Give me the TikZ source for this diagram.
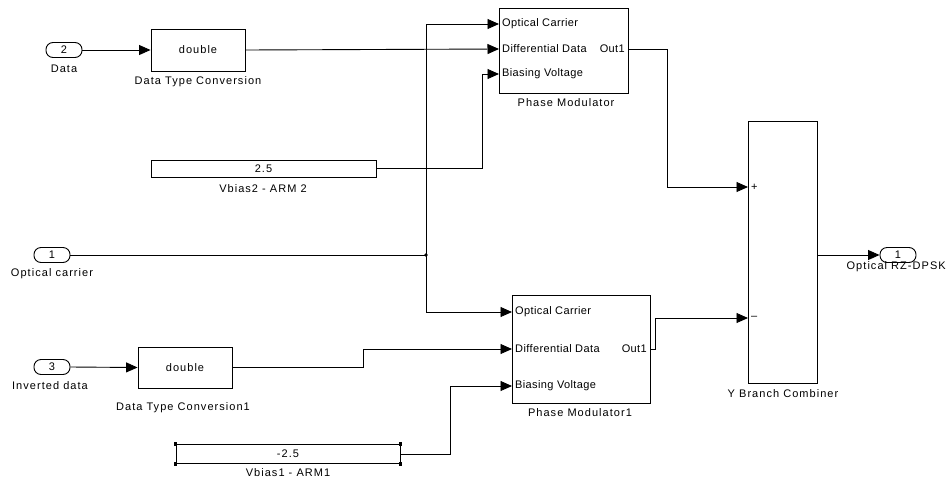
\documentclass[tikz,border=0pt]{standalone}
\usepackage{fontspec}
\setmainfont{Liberation Sans}
\newfontfamily\lblfont[LetterSpace=9.5]{Liberation Sans}
\newfontfamily\prtfont[LetterSpace=3.5]{Liberation Sans}
\usetikzlibrary{arrows.meta}
\tikzset{
  wire/.style={line width=0.9pt},
  arr/.style={wire,-{Triangle[length=11.5pt,width=10pt]}},
  blk/.style={draw,line width=0.9pt,inner sep=0pt,font=\lblfont\fontsize{11}{13}\selectfont},
  portnode/.style={draw,line width=0.9pt,rounded corners=7pt,minimum width=36pt,minimum height=15pt,inner sep=0pt,font=\lblfont\fontsize{11}{13}\selectfont},
  lbl/.style={inner sep=0pt,font=\lblfont\fontsize{11}{13}\selectfont},
  ptxt/.style={inner sep=0pt,font=\prtfont\fontsize{11}{13}\selectfont},
  handle/.style={fill=black,minimum size=3.5pt,inner sep=0pt},
}
\begin{document}
\begin{tikzpicture}[x=1pt,y=-1pt]
\useasboundingbox (0,0) rectangle (948,480);
% ports
\node[portnode] (pdata) at (64,50) {2};
\node[lbl] at (64,69) {Data};
\node[portnode] (poc) at (52,255) {1};
\node[lbl] at (52,274) {Optical carrier};
\node[portnode] (pinv) at (52,367) {3};
\node[lbl] at (50,386) {Inverted data};
\node[portnode] (pout) at (898,255) {1};
\node[lbl,anchor=east] at (946,267) {Optical RZ-DPSK};
% conversion blocks
\node[blk,minimum width=94pt,minimum height=42pt] (dtc) at (198,50) {double};
\node[lbl] at (198,82) {Data Type Conversion};
\node[blk,minimum width=94pt,minimum height=41pt] (dtc1) at (185,367.5) {double};
\node[lbl] at (183,408) {Data Type Conversion1};
% constants
\node[blk,minimum width=225pt,minimum height=17pt] (vb2) at (263.5,168.5) {2.5};
\node[lbl] at (263,189) {Vbias2 - ARM 2};
\node[blk,minimum width=224pt,minimum height=19pt] (vb1) at (288,454) {-2.5};
\node[lbl] at (288,473) {Vbias1 - ARM1};
\node[handle] (h1) at (vb1.north west) {};
\node[handle] (h2) at (vb1.north east) {};
\node[handle] (h3) at (vb1.south west) {};
\node[handle] (h4) at (vb1.south east) {};
% phase modulator
\node[blk,minimum width=129pt,minimum height=85pt] (pm) at (563.5,50.5) {};
\node[lbl] at (566,103) {Phase Modulator};
\coordinate (pmOC) at (499,24);
\coordinate (pmDD) at (499,49);
\coordinate (pmBV) at (499,74);
\coordinate (pmO) at (628,49);
\node[ptxt,anchor=west] at (502,24) {Optical Carrier};
\node[ptxt,anchor=west] at (502,49) {Differential Data};
\node[ptxt,anchor=west] at (502,74) {Biasing Voltage};
\node[ptxt,anchor=east] at (625,49) {Out1};
% phase modulator 1
\node[blk,minimum width=138pt,minimum height=108pt] (pm1) at (581,349) {};
\node[lbl] at (580,413) {Phase Modulator1};
\coordinate (pm1OC) at (512,312);
\coordinate (pm1DD) at (512,349);
\coordinate (pm1BV) at (512,386);
\coordinate (pm1O) at (650,349);
\node[ptxt,anchor=west] at (515,312) {Optical Carrier};
\node[ptxt,anchor=west] at (515,349) {Differential Data};
\node[ptxt,anchor=west] at (515,386) {Biasing Voltage};
\node[ptxt,anchor=east] at (647,349) {Out1};
% combiner
\node[blk,minimum width=69pt,minimum height=262pt] (ybc) at (782.5,252) {};
\node[lbl] at (783,394) {Y Branch Combiner};
\coordinate (ybcP) at (748,187);
\coordinate (ybcM) at (748,318);
\node[ptxt,anchor=west] at (751,187) {+};
\node[ptxt,anchor=west] at (751,318) {\textendash};
% junction
\coordinate (J) at (426,255);
\fill (J) circle (1.8pt);
% wires
\draw[arr] (pdata.east) -- (dtc.west);
\draw[arr] (dtc.east) -- (pmDD);
\draw[arr] (pinv.east) -- (dtc1.west);
\draw[arr] (dtc1.east) -- ++(131,0) |- (pm1DD);
\draw[wire] (poc.east) -- (J);
\draw[arr] (J) |- (pmOC);
\draw[arr] (J) |- (pm1OC);
\draw[arr] (vb2.east) -- ++(106,0) |- (pmBV);
\draw[arr] (vb1.east) -- ++(50,0) |- (pm1BV);
\draw[arr] (pmO) -- ++(39,0) |- (ybcP);
\draw[arr] (pm1O) -- ++(5,0) |- (ybcM);
\draw[arr] (ybc.east |- pout) -- (pout.west);
\end{tikzpicture}
\end{document}
